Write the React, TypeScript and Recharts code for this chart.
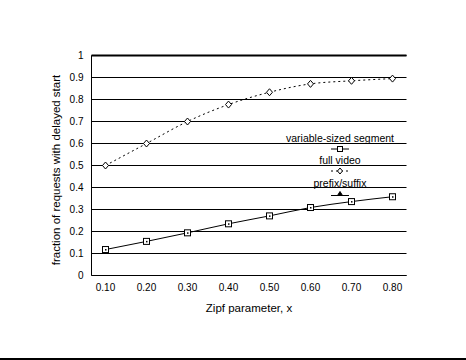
import React from 'react'
import { LineChart, Line, XAxis, YAxis, CartesianGrid, ReferenceLine } from 'recharts'

const zipf = ['0.10', '0.20', '0.30', '0.40', '0.50', '0.60', '0.70', '0.80']
const variableSized = [0.118, 0.155, 0.194, 0.235, 0.271, 0.309, 0.336, 0.358]
const fullVideo = [0.5, 0.6, 0.7, 0.777, 0.833, 0.871, 0.885, 0.895]
const yTicks = [0, 0.1, 0.2, 0.3, 0.4, 0.5, 0.6, 0.7, 0.8, 0.9, 1]
const legendLabels = ['variable-sized segment', 'full video', 'prefix/suffix']

const data = zipf.map((x, i) => ({ x, seg: variableSized[i], full: fullVideo[i] }))

const FONT = '"Liberation Sans", Arial, sans-serif'

const SquareDot = (props: any) => {
  const { cx, cy } = props
  if (cx == null || cy == null) return null
  return (
    <g>
      <rect x={cx - 3} y={cy - 3} width={6} height={6} fill="#fff" stroke="#000" strokeWidth={1} />
      <rect x={cx - 0.5} y={cy - 0.5} width={1.5} height={1.5} fill="#000" />
    </g>
  )
}

const DiamondDot = (props: any) => {
  const { cx, cy } = props
  if (cx == null || cy == null) return null
  return (
    <path
      d={`M${cx},${cy - 3.5} L${cx + 3},${cy} L${cx},${cy + 3.5} L${cx - 3},${cy} Z`}
      fill="#fff"
      stroke="#000"
      strokeWidth={1}
    />
  )
}

const YTitle = () => (
  <text
    x={56}
    y={170}
    transform="rotate(-90 56 170)"
    textAnchor="middle"
    dominantBaseline="central"
    fontSize={11.5}
    fill="#000"
    fontFamily={FONT}
  >
    fraction of requests with delayed start
  </text>
)

const LegendSymbol = ({ kind }: { kind: number }) => (
  <svg width={20} height={8} style={{ display: 'block', margin: '0 auto' }}>
    {kind === 0 && (
      <>
        <line x1={1} y1={4} x2={19} y2={4} stroke="#000" />
        <rect x={7.5} y={1.5} width={5} height={5} fill="#fff" stroke="#000" />
      </>
    )}
    {kind === 1 && (
      <>
        <line x1={1} y1={4} x2={19} y2={4} stroke="#000" strokeDasharray="2 3" />
        <path d="M10,1 L12.5,4 L10,7 L7.5,4 Z" fill="#fff" stroke="#000" />
      </>
    )}
    {kind === 2 && (
      <>
        <line x1={1} y1={5.5} x2={19} y2={5.5} stroke="#000" />
        <path d="M10,1.5 L12.5,5.5 L7.5,5.5 Z" fill="#000" stroke="#000" />
      </>
    )}
  </svg>
)

export default function App() {
  return (
    <div style={{ position: 'absolute', left: 0, top: 0, width: 466, height: 360, background: '#fff', fontFamily: FONT }}>
      <LineChart width={466} height={360} data={data} margin={{ top: 55.5, right: 59.5, left: 61.5, bottom: 54.5 }}>
        <CartesianGrid horizontal vertical={false} stroke="#000" strokeDasharray="" />
        <XAxis
          dataKey="x"
          padding={{ left: 14, right: 14 }}
          height={30}
          tickLine={false}
          axisLine={{ stroke: '#000' }}
          tick={{ fontSize: 10, fill: '#000', fontFamily: FONT }}
          label={{ value: 'Zipf parameter, x', position: 'insideBottom', offset: -6, fontSize: 11.5, fill: '#000', fontFamily: FONT }}
        />
        <YAxis
          domain={[0, 1]}
          ticks={yTicks}
          interval={0}
          width={30}
          tickLine={false}
          axisLine={{ stroke: '#000' }}
          tickFormatter={(v: number) => String(v)}
          tick={{ fontSize: 10, fill: '#000', fontFamily: FONT }}
          label={{ content: () => <YTitle /> }}
        />
        <YAxis yAxisId="r" orientation="right" width={0} tick={false} tickLine={false} axisLine={{ stroke: '#000' }} />
        <ReferenceLine y={1} stroke="#000" strokeWidth={2} />
        <Line
          dataKey="seg"
          stroke="#000"
          strokeWidth={1}
          dot={<SquareDot />}
          activeDot={false}
          isAnimationActive={false}
          type="monotone"
        />
        <Line
          dataKey="full"
          stroke="#000"
          strokeWidth={1}
          strokeDasharray="2 3"
          dot={<DiamondDot />}
          activeDot={false}
          isAnimationActive={false}
          type="monotone"
        />
      </LineChart>
      <div style={{ position: 'absolute', left: 280, top: 132.5, width: 120, textAlign: 'center', fontSize: 10.5, lineHeight: '11.3px', color: '#000' }}>
        {legendLabels.map((l, i) => (
          <div key={l}>
            <div style={{ height: 11.3 }}>{l}</div>
            <div style={{ height: 11.3, paddingTop: 1, boxSizing: 'border-box' }}>
              <LegendSymbol kind={i} />
            </div>
          </div>
        ))}
      </div>
      <div style={{ position: 'absolute', left: 0, top: 358, width: 466, height: 2, background: '#000' }} />
    </div>
  )
}
